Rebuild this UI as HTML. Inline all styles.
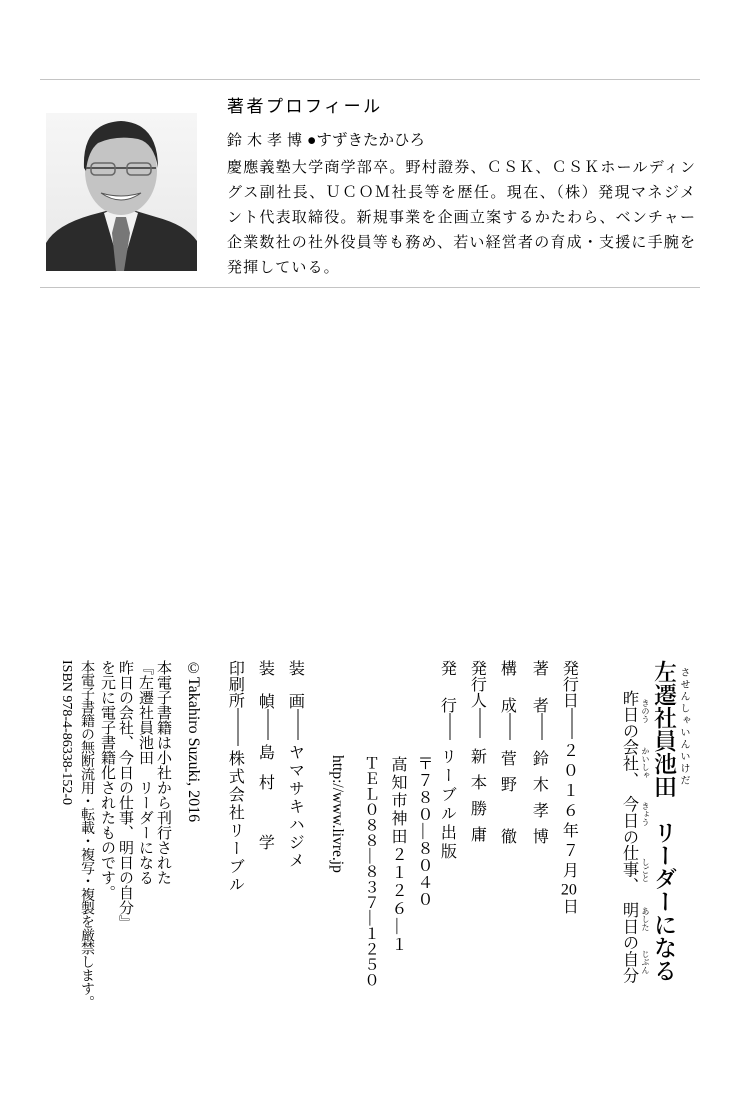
<!DOCTYPE html>
<html lang="ja"><head><meta charset="utf-8">
<style>
html,body{margin:0;padding:0;background:#fff;}
body{width:756px;height:1110px;position:relative;overflow:hidden;color:#000;font-family:"Liberation Serif","Noto Serif CJK SC",serif;}
.a{position:absolute;}
.v{position:absolute;writing-mode:vertical-rl;white-space:nowrap;line-height:1;}
.s{text-orientation:mixed;}
.d{display:inline-block;inline-size:30px;block-size:1em;background:linear-gradient(to right,transparent calc(50% - 0.7px),#111 calc(50% - 0.7px),#111 calc(50% + 0.7px),transparent calc(50% + 0.7px));vertical-align:middle;}
.tc{text-combine-upright:all;}
.line{position:absolute;left:227px;width:468px;font-size:15px;text-align:justify;text-align-last:justify;white-space:nowrap;line-height:25px;}
</style></head><body>

<div class="a" style="left:40px;top:79px;width:660px;height:1px;background:#c4c4c4"></div>
<div class="a" style="left:40px;top:287px;width:660px;height:1px;background:#c4c4c4"></div>

<svg class="a" style="left:46px;top:113px" width="151" height="158" viewBox="0 0 151 158">
<defs><linearGradient id="bg" x1="0" y1="0" x2="0" y2="1"><stop offset="0" stop-color="#f6f6f6"/><stop offset="1" stop-color="#e8e8e8"/></linearGradient></defs>
<rect width="151" height="158" fill="url(#bg)"/>
<path d="M0 158 L0 130 Q10 112 45 102 L60 98 L90 98 L110 104 Q140 112 151 128 L151 158 Z" fill="#2b2b2b"/>
<path d="M58 100 L75 158 L92 100 L82 96 L68 96 Z" fill="#f2f2f2"/>
<path d="M70 104 L80 104 L84 120 L78 158 L70 158 L66 120 Z" fill="#777"/>
<ellipse cx="75" cy="58" rx="36" ry="44" fill="#c4c4c4"/>
<path d="M38 55 Q36 10 75 8 Q112 10 112 55 Q108 30 92 26 Q70 22 52 30 Q42 38 40 58 Z" fill="#2a2a2a"/>
<path d="M40 55 L110 55" stroke="#555" stroke-width="2"/>
<rect x="45" y="50" width="24" height="12" rx="4" fill="none" stroke="#666" stroke-width="1.5"/>
<rect x="81" y="50" width="24" height="12" rx="4" fill="none" stroke="#666" stroke-width="1.5"/>
<path d="M55 80 Q75 94 95 80 Q75 86 55 80 Z" fill="#fff" stroke="#555"/>
</svg>

<div class="a" style="left:227px;top:96px;font-size:17px;letter-spacing:2.5px;font-family:'Liberation Sans','Noto Sans CJK JP',sans-serif;line-height:22px">著者プロフィール</div>
<div class="a" style="left:227px;top:131px;font-size:15px;line-height:20px;white-space:nowrap"><span style="letter-spacing:5px">鈴木孝博</span><span style="font-size:15.5px">●すずきたかひろ</span></div>
<div class="line" style="top:156px">慶應義塾大学商学部卒。野村證券、ＣＳＫ、ＣＳＫホールディン</div>
<div class="line" style="top:181px">グス副社長、ＵＣＯＭ社長等を歴任。現在、（株）発現マネジメ</div>
<div class="line" style="top:206px">ント代表取締役。新規事業を企画立案するかたわら、ベンチャー</div>
<div class="line" style="top:231px">企業数社の社外役員等も務め、若い経営者の育成・支援に手腕を</div>
<div class="line" style="top:256px;text-align:left;text-align-last:left;letter-spacing:1.1px">発揮している。</div>

<div class="v" style="left:651px;top:660px;font-size:23px;width:24px;font-weight:600">左遷社員池田　リーダーになる</div>
<div class="v" style="left:678px;top:667px;font-size:10px;letter-spacing:2px;width:10px">させんしゃいんいけだ</div>
<div class="v" style="left:620px;top:690px;font-size:16.3px;width:17px">昨日の会社、　今日の仕事、　明日の自分</div>
<div class="v" style="left:641px;top:699px;font-size:8px;width:8px">きのう</div>
<div class="v" style="left:641px;top:747px;font-size:8px;width:8px">かいしゃ</div>
<div class="v" style="left:641px;top:802px;font-size:8px;width:8px">きょう</div>
<div class="v" style="left:641px;top:858px;font-size:8px;width:8px">しごと</div>
<div class="v" style="left:641px;top:907px;font-size:8px;width:8px">あした</div>
<div class="v" style="left:641px;top:950px;font-size:8px;width:8px">じぶん</div>

<div class="v" style="left:564px;top:660px;font-size:16px;width:16px">発行日<span class="d" style="inline-size:31px"></span><span style="letter-spacing:4px;margin-top:3px;display:inline-block">２０１６年７月<span class="tc">20</span>日</span></div>
<div class="v" style="left:534px;top:660px;font-size:16px;width:16px">著<span style="display:inline-block;inline-size:21px"></span>者<span class="d" style="inline-size:27px"></span><span style="letter-spacing:10px;display:inline-block;margin-top:10px">鈴木孝博</span></div>
<div class="v" style="left:502px;top:660px;font-size:16px;width:16px">構<span style="display:inline-block;inline-size:21px"></span>成<span class="d" style="inline-size:27px"></span><span style="letter-spacing:10px;display:inline-block;margin-top:10px">菅野　徹</span></div>
<div class="v" style="left:472px;top:660px;font-size:16px;width:16px">発行人<span class="d" style="inline-size:30px"></span><span style="letter-spacing:10px;display:inline-block;margin-top:10px">新本勝庸</span></div>
<div class="v" style="left:442px;top:660px;font-size:16px;width:16px">発<span style="display:inline-block;inline-size:21px"></span>行<span class="d" style="inline-size:27px"></span><span style="letter-spacing:3px;display:inline-block;margin-top:8px">リーブル出版</span></div>
<div class="v" style="left:415px;top:755px;font-size:16px;width:16px;letter-spacing:1px">〒７８０—８０４０</div>
<div class="v" style="left:389px;top:756px;font-size:16px;width:16px;letter-spacing:2px">高知市神田２１２６—１</div>
<div class="v" style="left:362px;top:755px;font-size:15.5px;width:16px">ＴＥＬ０８８—８３７—１２５０</div>
<div class="v s" style="left:329px;top:755px;font-size:15.5px;width:16px;font-family:'Liberation Serif',serif">http://www.livre.jp</div>
<div class="v" style="left:290px;top:660px;font-size:16px;width:16px">装<span style="display:inline-block;inline-size:17px"></span>画<span class="d" style="inline-size:31px"></span><span style="letter-spacing:2px;display:inline-block;margin-top:4px">ヤマサキハジメ</span></div>
<div class="v" style="left:260px;top:660px;font-size:16px;width:16px">装<span style="display:inline-block;inline-size:17px"></span>幀<span class="d" style="inline-size:31px"></span><span style="letter-spacing:14px;display:inline-block;margin-top:4px">島村　学</span></div>
<div class="v" style="left:230px;top:660px;font-size:16px;width:16px">印刷所<span class="d" style="inline-size:38px"></span><span style="letter-spacing:2px;display:inline-block;margin-top:4px">株式会社リーブル</span></div>
<div class="v s" style="left:185px;top:660px;font-size:16px;width:16px">©Takahiro Suzuki, 2016</div>

<div class="v" style="left:155px;top:660px;font-size:15px;width:15px">本電子書籍は小社から刊行された</div>
<div class="v" style="left:137px;top:660px;font-size:15px;width:15px">『左遷社員池田　リーダーになる</div>
<div class="v" style="left:117px;top:660px;font-size:15px;width:15px">昨日の会社、今日の仕事、明日の自分』</div>
<div class="v" style="left:99px;top:660px;font-size:15px;width:15px">を元に電子書籍化されたものです。</div>
<div class="v" style="left:78px;top:660px;font-size:14px;width:15px;letter-spacing:-0.6px">本電子書籍の無断流用・転載・複写・複製を厳禁します。</div>
<div class="v s" style="left:58px;top:660px;font-size:14px;width:15px;font-family:'Liberation Serif',serif">ISBN 978-4-86338-152-0</div>

</body></html>
